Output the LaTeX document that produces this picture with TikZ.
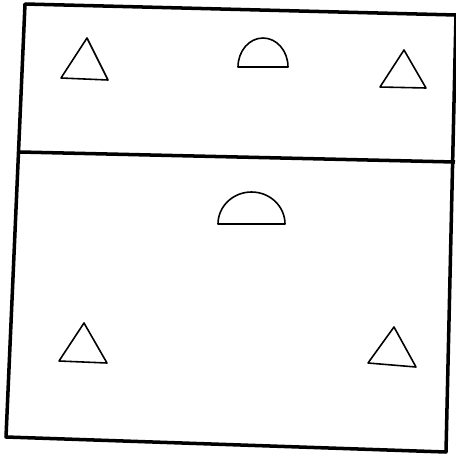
\documentclass[tikz,border=0pt]{standalone}
\usepackage{tikz}

\begin{document}
\begin{tikzpicture}[x=0.02cm, y=-0.02cm, line join=round,
  frame/.style={line width=2pt},
  cone/.style={line width=0.9pt},
  dome/.style={line width=0.9pt}]
\useasboundingbox (0,0) rectangle (456,457);
% court outline and dividing line
\draw[frame] (25,4) -- (456,15) -- (446,452) -- (6,437) -- cycle;
\draw[frame] (20,152) -- (455,162);
% upper part
\draw[cone] (87,38) -- (108,80) -- (61,78) -- cycle;
\draw[dome] (238,67) arc[start angle=180, end angle=360, x radius=25, y radius=29] -- cycle;
\draw[cone] (404,50) -- (426,88) -- (380,87) -- cycle;
% lower part
\draw[dome] (218,224) arc[start angle=180, end angle=360, x radius=33.5, y radius=32] -- cycle;
\draw[cone] (84,323) -- (107,363) -- (59,361) -- cycle;
\draw[cone] (394,327) -- (416,367) -- (368,363) -- cycle;
\end{tikzpicture}
\end{document}
